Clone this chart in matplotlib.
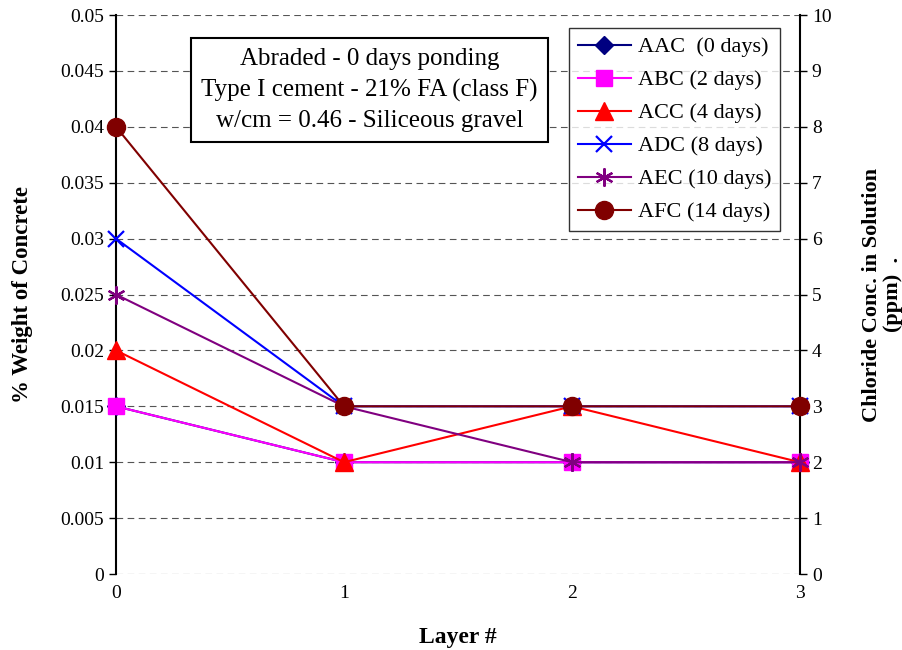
import numpy as np
import matplotlib.pyplot as plt

plt.rcParams['font.family'] = ['Liberation Serif', 'DejaVu Serif']

layers = [0, 1, 2, 3]
aac = [0.015, 0.01, 0.01, 0.01]
abc = [0.015, 0.01, 0.01, 0.01]
acc = [0.02, 0.01, 0.015, 0.01]
adc = [0.03, 0.015, 0.015, 0.015]
aec = [0.025, 0.015, 0.01, 0.01]
afc = [0.04, 0.015, 0.015, 0.015]

labels = ['AAC  (0 days)', 'ABC (2 days)', 'ACC (4 days)', 'ADC (8 days)',
          'AEC (10 days)', 'AFC (14 days)']
colors = ['#000080', '#ff00ff', '#ff0000', '#0000ff', '#800080', '#800000']
markers = ['D', 's', '^', 'x', '*', 'o']
sizes = [9, 11, 13, 12, 13, 13]
series = [aac, abc, acc, adc, aec, afc]

fig = plt.figure(figsize=(9.02, 6.5), dpi=100)
ax = fig.add_axes([0.1286, 0.1169, 0.7583, 0.86])

for y, lab, c, m, s in zip(series, labels, colors, markers, sizes):
    mk = dict(marker=m, markersize=s, color=c, linewidth=1.5, label=lab)
    if m == '*':
        mk.update(marker=(6, 2, 0), markeredgewidth=1.6)
    if m == 'x':
        mk.update(markeredgewidth=1.6)
    ax.plot(layers, y, clip_on=False, zorder=3, **mk)

ax.set_xlim(0, 3)
ax.set_ylim(0, 0.05)
ax.set_xticks(layers)
ax.set_yticks(np.arange(0, 0.0501, 0.005))
ax.set_yticklabels(['0', '0.005', '0.01', '0.015', '0.02', '0.025', '0.03',
                    '0.035', '0.04', '0.045', '0.05'])
ax.tick_params(axis='y', labelsize=14, direction='out', length=5, width=1)
ax.tick_params(axis='x', labelsize=14, length=0, pad=8)
ax.yaxis.grid(True, linestyle=(0, (6, 4)), color='#555555', linewidth=0.8)
ax.set_axisbelow(True)
for side in ['top', 'bottom']:
    ax.spines[side].set_visible(False)
ax.spines['left'].set_linewidth(1.5)
ax.spines['right'].set_linewidth(1.5)

ax.set_xlabel('Layer #', fontsize=17, fontweight='bold', labelpad=18)
ax.set_ylabel('% Weight of Concrete', fontsize=16.5, fontweight='bold', labelpad=20)

ax2 = ax.twinx()
ax2.set_ylim(0, 10)
ax2.set_yticks(range(0, 11))
ax2.tick_params(axis='y', labelsize=14, direction='out', length=5, width=1)
for side in ['top', 'bottom', 'left', 'right']:
    ax2.spines[side].set_visible(False)
ax2.set_ylabel('Chloride Conc. in Solution\n(ppm)  .', fontsize=16,
               fontweight='bold', labelpad=22, linespacing=1.1)

ax.text(0.3706, 0.8658, 'Abraded - 0 days ponding\nType I cement - 21% FA (class F)\n'
        'w/cm = 0.46 - Siliceous gravel', transform=ax.transAxes, ha='center',
        va='center', fontsize=18, linespacing=1.5,
        bbox=dict(boxstyle='square,pad=0.4', facecolor='white', edgecolor='black',
                  linewidth=1.5))

leg = ax.legend(loc='upper right', bbox_to_anchor=(0.971, 0.977), fontsize=16,
                frameon=True, fancybox=False, edgecolor='black', borderpad=0.4,
                labelspacing=0.56, handlelength=2.4, handletextpad=0.3,
                borderaxespad=0)
leg.get_frame().set_linewidth(1.0)
ax2.set_zorder(-1)
ax.patch.set_visible(False)

fig.savefig('out.png', dpi=100)
